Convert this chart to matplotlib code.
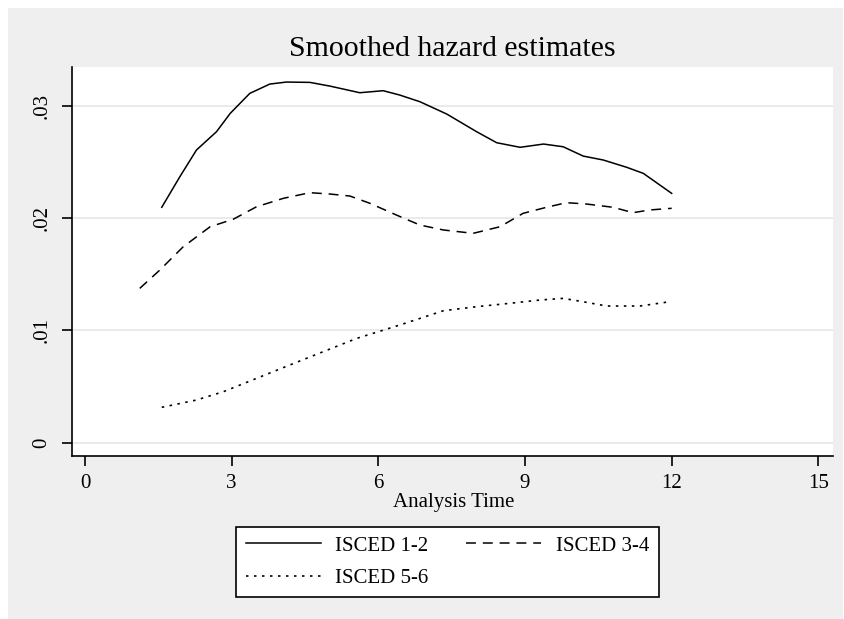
import matplotlib
matplotlib.use('Agg')
import matplotlib.pyplot as plt
from matplotlib.patches import Rectangle

plt.rcParams['font.family'] = ['Liberation Serif', 'DejaVu Serif']

# ISCED 1-2
t_low = [1.57, 1.94, 2.28, 2.69, 2.97, 3.37, 3.78, 4.12, 4.60, 5.01, 5.62, 6.10, 6.44,
         6.85, 7.40, 8.01, 8.42, 8.90, 9.38, 9.78, 10.19, 10.60, 11.08, 11.42, 12.00]
h_low = [0.02096, 0.02368, 0.02606, 0.02769, 0.02932, 0.03110, 0.03193, 0.03211, 0.03208,
         0.03175, 0.03116, 0.03134, 0.03095, 0.03036, 0.02926, 0.02769, 0.02671, 0.02630,
         0.02659, 0.02635, 0.02552, 0.02517, 0.02452, 0.02398, 0.02220]

# ISCED 3-4
t_mid = [1.12, 1.53, 2.01, 2.56, 3.03, 3.51, 4.06, 4.60, 5.01, 5.42, 5.83, 6.37,
         6.85, 7.33, 7.94, 8.49, 8.96, 9.44, 9.85, 10.26, 10.80, 11.21, 11.55, 12.00]
h_mid = [0.01374, 0.01537, 0.01745, 0.01923, 0.01989, 0.02101, 0.02176, 0.02226, 0.02214,
         0.02196, 0.02131, 0.02027, 0.01938, 0.01894, 0.01864, 0.01923, 0.02042, 0.02096,
         0.02137, 0.02125, 0.02096, 0.02048, 0.02072, 0.02087]

# ISCED 5-6
t_high = [1.57, 2.28, 2.83, 3.51, 4.19, 4.87, 5.56, 6.44, 7.33, 8.01, 8.69, 9.30,
          9.78, 10.19, 10.67, 11.35, 11.96]
h_high = [0.00315, 0.00380, 0.00454, 0.00573, 0.00692, 0.00810, 0.00929, 0.01048, 0.01175,
          0.01211, 0.01241, 0.01270, 0.01285, 0.01255, 0.01217, 0.01217, 0.01255]

x_ticks = [0, 3, 6, 9, 12, 15]
y_ticks = [0, 0.01, 0.02, 0.03]
y_labels = ['0', '.01', '.02', '.03']

W, H = 845, 619
fig = plt.figure(figsize=(W / 100, H / 100), dpi=100, facecolor='white')
fig.patches.append(Rectangle((8 / W, 0), 835 / W, 611 / H, transform=fig.transFigure,
                             facecolor='#efefef', edgecolor='none', zorder=-10))

ax = fig.add_axes([72 / W, 1 - 456 / H, (833 - 72) / W, (456 - 67) / H])
ax.set_facecolor('white')

l1, = ax.plot(t_low, h_low, color='black', lw=1.1, label='ISCED 1-2')
l2, = ax.plot(t_mid, h_mid, color='black', lw=1.1, dashes=(6.5, 4.5), label='ISCED 3-4')
l3, = ax.plot(t_high, h_high, color='black', lw=1.2, dashes=(1.5, 3.3), label='ISCED 5-6')

ax.set_xlim(-0.266, 15.30)
ax.set_ylim(-0.001184, 0.03345)
ax.set_xticks(x_ticks)
ax.set_yticks(y_ticks)
ax.set_yticklabels(y_labels, rotation=90, va='center')
ax.grid(axis='y', color='#e6e6e6', lw=1.2)
ax.set_axisbelow(True)
for s in ['top', 'right']:
    ax.spines[s].set_visible(False)
for s in ['left', 'bottom']:
    ax.spines[s].set_linewidth(1.2)
ax.tick_params(direction='out', length=7, width=1.2, labelsize=15, pad=6)
ax.tick_params(axis='y', pad=8)

fig.text(452.5 / W, 1 - 56 / H, 'Smoothed hazard estimates', ha='center', va='baseline', fontsize=21.5)
fig.text(454 / W, 1 - 502 / H, 'Analysis Time', ha='center', va='center', fontsize=15)

# order so the legend fills row by row like the original
leg = fig.legend(handles=[l1, l3, l2], ncol=2, loc='center',
                 bbox_to_anchor=(447.5 / W, 1 - 562 / H), fontsize=15,
                 frameon=True, fancybox=False, edgecolor='black', framealpha=1,
                 handlelength=3.6, handletextpad=0.7, columnspacing=1.8,
                 labelspacing=0.6, borderpad=0.45)
leg.get_frame().set_linewidth(1.2)

fig.savefig('out.png', dpi=100, facecolor='white')
